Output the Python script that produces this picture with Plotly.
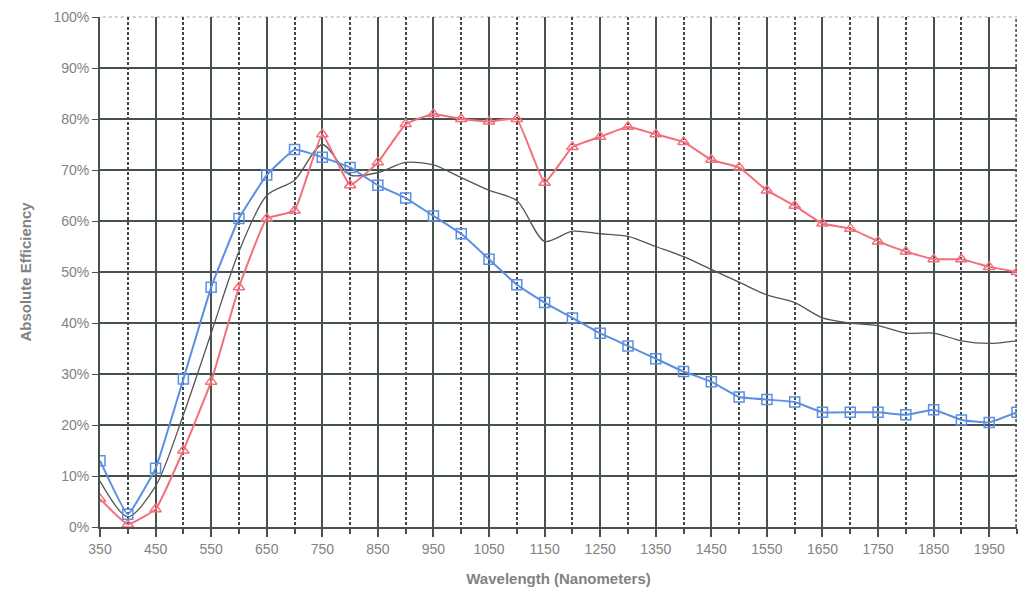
import plotly.graph_objects as go

wavelength = list(range(350, 2001, 50))

blue_eff = [13, 2.5, 11.5, 29, 47, 60.5, 69, 74, 72.5, 70.5, 67, 64.5, 61, 57.5, 52.5, 47.5,
            44, 41, 38, 35.5, 33, 30.5, 28.5, 25.5, 25, 24.5, 22.5, 22.5, 22.5, 22, 23, 21, 20.5, 22.5]
red_eff = [5.5, 0.5, 3.5, 15, 28.5, 47, 60.5, 62, 77, 67, 71.5, 79, 81, 80, 79.5, 80,
           67.5, 74.5, 76.5, 78.5, 77, 75.5, 72, 70.5, 66, 63, 59.5, 58.5, 56, 54, 52.5, 52.5, 51, 50]
gray_eff = [9, 2, 8, 22, 38, 54, 65, 68, 75, 69, 69.5, 71.5, 71, 68.5, 66, 64,
            56, 58, 57.5, 57, 55, 53, 50.5, 48, 45.5, 44, 41, 40, 39.5, 38, 38, 36.5, 36, 36.5]

x_ticks = list(range(350, 2000, 100))
y_ticks = list(range(0, 101, 10))
y_labels = [f"{v}%" for v in y_ticks]

GRID = "#46524d"
MINOR = "#3f4844"
TXT = "#828282"

fig = go.Figure()
fig.add_trace(go.Scatter(x=wavelength, y=gray_eff, mode="lines",
                         line=dict(color="#555555", width=1.3, shape="spline", smoothing=0.8),
                         showlegend=False))
fig.add_trace(go.Scatter(x=wavelength, y=red_eff, mode="lines+markers",
                         line=dict(color="#f2707c", width=2, shape="spline", smoothing=0.3),
                         marker=dict(symbol="triangle-up-open", size=10, color="#f2707c",
                                     line=dict(width=1.5)),
                         showlegend=False))
fig.add_trace(go.Scatter(x=wavelength, y=blue_eff, mode="lines+markers",
                         line=dict(color="#5a8fe3", width=2, shape="spline", smoothing=0.3),
                         marker=dict(symbol="square-open", size=10, color="#5a8fe3",
                                     line=dict(width=1.5)),
                         showlegend=False))

fig.update_layout(
    width=1023, height=594,
    margin=dict(l=100, r=6, t=17, b=67),
    paper_bgcolor="white", plot_bgcolor="white",
    font=dict(family="Liberation Sans, Arial, sans-serif", size=12, color=TXT),
    xaxis=dict(
        range=[350, 2000], tickvals=x_ticks, ticktext=[str(v) for v in x_ticks],
        showgrid=True, gridcolor=GRID, gridwidth=2,
        ticks="outside", ticklen=8, tickcolor=GRID, tickwidth=1.5,
        tickfont=dict(size=14, color=TXT),
        minor=dict(dtick=50, tick0=350, showgrid=True, gridcolor=MINOR, gridwidth=1.5,
                   griddash="3px,2px", ticks="outside", ticklen=5, tickcolor=GRID),
        showline=True, linecolor=GRID, linewidth=2,
        zeroline=False,
        title=dict(text="<b>Wavelength (Nanometers)</b>", font=dict(size=15, color=TXT), standoff=18),
    ),
    yaxis=dict(
        range=[0, 100], tickvals=y_ticks, ticktext=y_labels,
        showgrid=True, gridcolor=GRID, gridwidth=2,
        ticks="outside", ticklen=6, tickcolor=GRID,
        tickfont=dict(size=14, color=TXT),
        showline=True, linecolor=GRID, linewidth=2,
        zeroline=False,
        title=dict(text="<b>Absolute Efficiency</b>", font=dict(size=15, color=TXT), standoff=18),
    ),
    shapes=[
        dict(type="line", xref="paper", yref="paper", x0=0.003, x1=1, y0=1, y1=1,
             line=dict(color="white", width=4), layer="below"),
        dict(type="line", xref="paper", yref="paper", x0=0.003, x1=1, y0=1, y1=1,
             line=dict(color="#c9bcc8", width=1.5, dash="dot"), layer="below"),
        dict(type="line", xref="paper", yref="paper", x0=0.999, x1=0.999, y0=0, y1=1,
             line=dict(color=MINOR, width=1.5, dash="3px,2px"), layer="below"),
    ],
)

fig.write_html("out.html")
